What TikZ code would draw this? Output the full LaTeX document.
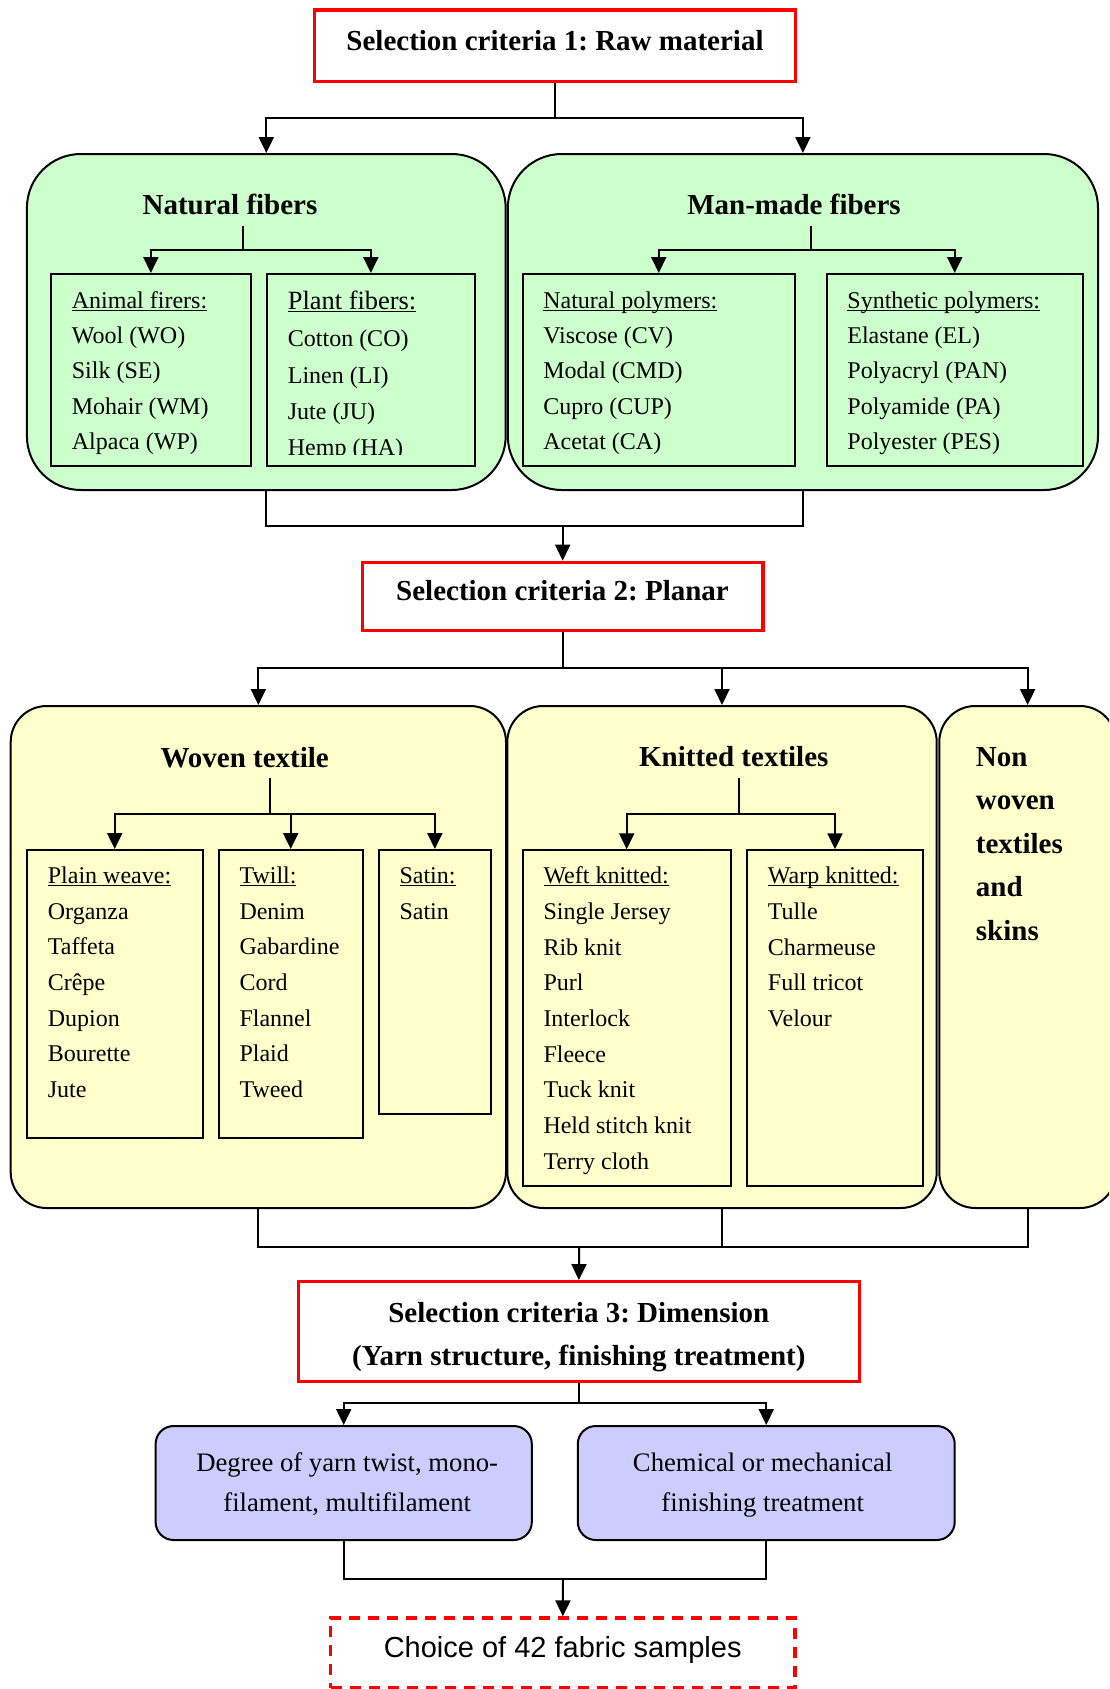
\documentclass[tikz,border=0pt]{standalone}
\usepackage{fontspec}
\setmainfont{Liberation Serif}
\newfontfamily\arialfont{Liberation Sans}
\usetikzlibrary{arrows.meta}
\frenchspacing

\definecolor{fibgreen}{RGB}{204,255,204}
\definecolor{texyellow}{RGB}{255,255,204}
\definecolor{dimblue}{RGB}{204,204,255}
\newcommand{\ulhead}[1]{\setbox0\hbox{#1}\rlap{\rule[-3pt]{\wd0}{1.3pt}}\box0}

\begin{document}
\begin{tikzpicture}[x = 1pt, y = -1pt,
	box/.style = {draw, line width = 2pt, inner sep = 0pt},
	critbox/.style = {box, draw = red, line width = 3.3pt, fill = white},
	greenbox/.style = {box, fill = fibgreen, rounded corners = 54pt},
	yellowbox/.style = {box, fill = texyellow, rounded corners = 36pt},
	bluebox/.style = {box, fill = dimblue, rounded corners = 18pt},
	title/.style = {anchor = base, inner sep = 0pt, font = \fontsize{29}{35}\selectfont\bfseries},
	item/.style = {anchor = base west, inner sep = 0pt, font = \fontsize{24}{29}\selectfont},
	bluetext/.style = {anchor = base, inner sep = 0pt, font = \fontsize{26.7}{32}\selectfont},
	link/.style = {line width = 2pt},
	arr/.style = {link, -{Triangle[length = 16pt, width = 15pt]}}]
	\useasboundingbox (0, 0) rectangle (1109, 1689);
	\clip (0, 0) rectangle (1109, 1689);
	\fill[white] (0, 0) rectangle (1109, 1689);

	% criteria 1 and fibers
	\node[critbox, minimum width = 480.9, minimum height = 71.7] (crit1) at (555.15, 45.85) {};
		\node[title] (crit1-t) at (555, 50) {Selection criteria 1: Raw material};
	\node[greenbox, minimum width = 478.8, minimum height = 336] (natural) at (266.3, 322) {};
	\node[greenbox, minimum width = 590.2, minimum height = 336] (manmade) at (802.9, 322) {};
		\node[title] (natural-t) at (230, 214.3) {Natural fibers};
		\node[title] (manmade-t) at (794, 214.3) {Man-made fibers};
	\node[box, minimum width = 200.3, minimum height = 192] (animal) at (150.85, 370) {};
	\node[box, minimum width = 208.3, minimum height = 192] (plant) at (370.85, 370) {};
	\node[box, minimum width = 272.3, minimum height = 192] (natpoly) at (658.75, 370) {};
	\node[box, minimum width = 256, minimum height = 192] (synth) at (954.7, 370) {};

	\node[item] (animal-h) at (71.7, 308.3) {\ulhead{Animal firers:}};
	\foreach \t [count = \i] in {Wool (WO), Silk (SE), Mohair (WM), Alpaca (WP)}
		\node[item] (animal-\i) at (71.7, 307.5 + 35.5 * \i) {\t};
	\node[item, font = \fontsize{26.4}{31}\selectfont] (plant-h) at (287.7, 309.3) {\ulhead{Plant fibers:}};
	\begin{scope}
		\clip (266.7, 274) rectangle (475, 454);
		\foreach \t [count = \i] in {Cotton (CO), Linen (LI), Jute (JU), Hemp (HA)}
			\node[item] (plant-\i) at (287.7, 310.5 + 36.3 * \i) {\t};
	\end{scope}
	\node[item] (natpoly-h) at (543.1, 308.3) {\ulhead{Natural polymers:}};
	\foreach \t [count = \i] in {Viscose (CV), Modal (CMD), Cupro (CUP), Acetat (CA)}
		\node[item] (natpoly-\i) at (543.1, 307.5 + 35.5 * \i) {\t};
	\node[item] (synth-h) at (847.2, 308.3) {\ulhead{Synthetic polymers:}};
	\foreach \t [count = \i] in {Elastane (EL), Polyacryl (PAN), Polyamide (PA), Polyester (PES)}
		\node[item] (synth-\i) at (847.2, 307.5 + 35.5 * \i) {\t};

	% criteria 2 and textiles
	\node[critbox, minimum width = 400.7, minimum height = 68.4] (crit2) at (562.65, 596.5) {};
		\node[title] (crit2-t) at (562.5, 600) {Selection criteria 2: Planar};
	\node[yellowbox, minimum width = 495.3, minimum height = 502] (woven) at (258.35, 957) {};
	\node[yellowbox, minimum width = 429.4, minimum height = 502] (knitted) at (722, 957) {};
	\node[yellowbox, minimum width = 176.7, minimum height = 502] (nonwoven) at (1027.65, 957) {};
		\node[title] (woven-t) at (244.7, 767.3) {Woven textile};
		\node[title] (knitted-t) at (733.8, 766.7) {Knitted textiles};
		\foreach \t [count = \i] in {Non, woven, textiles, and, skins}
			\node[title, anchor = base west] (nonwoven-\i) at (975.7, 722.5 + 43.5 * \i) {\t};
	\node[box, minimum width = 176, minimum height = 288.3] (plain) at (114.7, 994.15) {};
	\node[box, minimum width = 144, minimum height = 288.3] (twill) at (290.7, 994.15) {};
	\node[box, minimum width = 112.3, minimum height = 264] (satin) at (434.85, 982) {};
	\node[box, minimum width = 208, minimum height = 335.7] (weft) at (626.7, 1018.15) {};
	\node[box, minimum width = 176.6, minimum height = 335.7] (warp) at (835, 1018.15) {};

	\node[item] (plain-h) at (47.7, 883.3) {\ulhead{Plain weave:}};
	\foreach \t [count = \i] in {Organza, Taffeta, Crêpe, Dupion, Bourette, Jute}
		\node[item] (plain-\i) at (47.7, 883.7 + 35.6 * \i) {\t};
	\node[item] (twill-h) at (239.3, 883.3) {\ulhead{Twill:}};
	\foreach \t [count = \i] in {Denim, Gabardine, Cord, Flannel, Plaid, Tweed}
		\node[item] (twill-\i) at (239.3, 883.7 + 35.6 * \i) {\t};
	\node[item] (satin-h) at (399.3, 883.3) {\ulhead{Satin:}};
	\node[item] (satin-1) at (399.3, 919.3) {Satin};
	\node[item] (weft-h) at (543.3, 883.3) {\ulhead{Weft knitted:}};
	\foreach \t [count = \i] in {Single Jersey, Rib knit, Purl, Interlock, Fleece, Tuck knit, Held stitch knit, Terry cloth}
		\node[item] (weft-\i) at (543.3, 883.6 + 35.7 * \i) {\t};
	\node[item] (warp-h) at (767.7, 883.3) {\ulhead{Warp knitted:}};
	\foreach \t [count = \i] in {Tulle, Charmeuse, Full tricot, Velour}
		\node[item] (warp-\i) at (767.7, 883.6 + 35.7 * \i) {\t};

	% criteria 3 and dimension
	\node[critbox, minimum width = 560.9, minimum height = 100] (crit3) at (578.85, 1331.7) {};
		\node[title] (crit3-a) at (578.8, 1322.5) {Selection criteria 3: Dimension};
		\node[title] (crit3-b) at (578.8, 1365.5) {(Yarn structure, finishing treatment)};
	\node[bluebox, minimum width = 376.2, minimum height = 114] (twist) at (343.7, 1483) {};
	\node[bluebox, minimum width = 376.9, minimum height = 114] (finish) at (766.25, 1483) {};
		\node[bluetext] (twist-a) at (347.2, 1471.7) {Degree of yarn twist, mono-};
		\node[bluetext] (twist-b) at (347.2, 1511.7) {filament, multifilament};
		\node[bluetext] (finish-a) at (762.7, 1471.7) {Chemical or mechanical};
		\node[bluetext] (finish-b) at (762.7, 1511.7) {finishing treatment};
	\node[box, draw = red, line width = 3.3pt, dash pattern = on 11pt off 8pt, minimum width = 464.3, minimum height = 70] (choice) at (562.85, 1653) {};
		\node[anchor = base, inner sep = 0pt, font = \arialfont\fontsize{29}{35}\selectfont] (choice-t) at (562.7, 1657) {Choice of 42 fabric samples};

	% connectors
	\coordinate (split1) at (555.15, 117.7);
	\draw[link] (crit1.south) -- (split1);
	\draw[arr] (split1) -| (natural.north);
	\draw[arr] (split1) -| (manmade.north);
	\coordinate (natstem) at (242.7, 226);
	\coordinate (natsplit) at (242.7, 250);
	\draw[link] (natstem) -- (natsplit);
	\foreach \n in {animal, plant}
		\draw[arr] (natsplit) -| (\n.north);
	\coordinate (manstem) at (810.5, 226);
	\coordinate (mansplit) at (810.5, 250);
	\draw[link] (manstem) -- (mansplit);
	\foreach \n in {natpoly, synth}
		\draw[arr] (mansplit) -| (\n.north);
	\coordinate (join1) at (562.65, 526);
	\draw[link] (natural.south) |- (join1) -| (manmade.south);
	\draw[arr] (join1) -- (crit2.north);

	\coordinate (split2) at (562.65, 668.3);
	\draw[link] (crit2.south) -- (split2);
	\foreach \n in {woven, knitted, nonwoven}
		\draw[arr] (split2) -| (\n.north);
	\coordinate (wovstem) at (270.3, 777.7);
	\coordinate (wovsplit) at (270.3, 814.3);
	\draw[link] (wovstem) -- (wovsplit);
	\foreach \n in {plain, twill, satin}
		\draw[arr] (wovsplit) -| (\n.north);
	\coordinate (knitstem) at (739, 778.3);
	\coordinate (knitsplit) at (739, 814.3);
	\draw[link] (knitstem) -- (knitsplit);
	\foreach \n in {weft, warp}
		\draw[arr] (knitsplit) -| (\n.north);
	\coordinate (join2) at (579.2, 1246.7);
	\draw[link] (woven.south) |- (join2) -| (nonwoven.south);
	\draw[link] (knitted.south) -- (knitted.south |- join2);
	\draw[arr] (join2) -- (crit3.north);

	\coordinate (split3) at (578.85, 1403.3);
	\draw[link] (crit3.south) -- (split3);
	\foreach \n in {twist, finish}
		\draw[arr] (split3) -| (\n.north);
	\coordinate (join3) at (563, 1579);
	\draw[link] (twist.south) |- (join3) -| (finish.south);
	\draw[arr] (join3) -- (choice.north);
\end{tikzpicture}
\end{document}
